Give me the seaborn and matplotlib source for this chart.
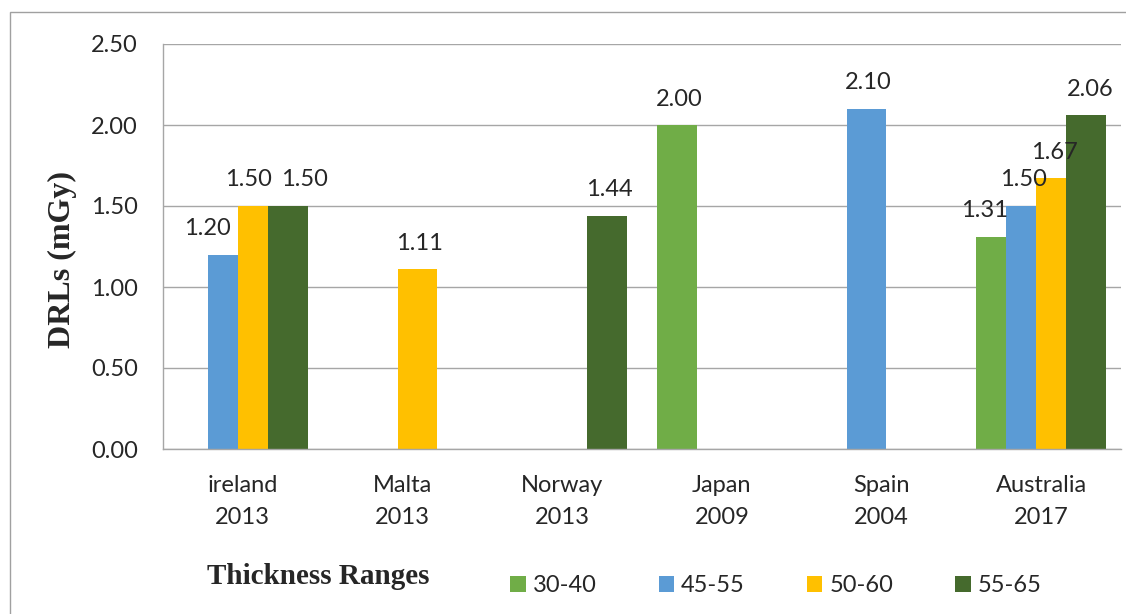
"""DRLs by country / thickness range, grouped bar chart."""

import matplotlib
matplotlib.use("Agg")
import matplotlib.pyplot as plt
from matplotlib.patches import Patch, Rectangle
import numpy as np
import pandas as pd
import seaborn as sns

# ---- data ----
countries = ["ireland\n2013", "Malta\n2013", "Norway\n2013", "Japan\n2009", "Spain\n2004", "Australia\n2017"]
ranges = ["30-40", "45-55", "50-60", "55-65"]
drl_30_40 = [np.nan, np.nan, np.nan, 2.00, np.nan, 1.31]
drl_45_55 = [1.20, np.nan, np.nan, np.nan, 2.10, 1.50]
drl_50_60 = [1.50, 1.11, np.nan, np.nan, np.nan, 1.67]
drl_55_65 = [1.50, np.nan, 1.44, np.nan, np.nan, 2.06]
colors = ["#70AD47", "#5B9BD5", "#FFC000", "#456A2D"]

rows = []
for rng, vals in zip(ranges, [drl_30_40, drl_45_55, drl_50_60, drl_55_65]):
    for c, v in zip(countries, vals):
        if not np.isnan(v):
            rows.append({"Country": c, "Range": rng, "DRL": v})
df = pd.DataFrame(rows)

# label nudges (pixels), to keep labels from colliding as in the original
label_dx = {(0, 1): -20, (0, 2): -9, (0, 3): 17,
            (5, 0): -12, (5, 1): -3, (5, 2): -2, (5, 3): 4}

FS = 17

sns.set_style("white")
plt.rcParams["font.family"] = ["Lato", "DejaVu Sans"]

fig = plt.figure(figsize=(11.26, 6.14), dpi=100)
ax = fig.add_axes([163 / 1126, 1 - 449 / 614, (1121 - 163) / 1126, (449 - 44) / 614])

sns.barplot(data=df, x="Country", y="DRL", hue="Range", order=countries, hue_order=ranges,
            palette=colors, width=0.75, dodge=True, errorbar=None, saturation=1,
            linewidth=0, legend=False, ax=ax)

# overlapping bars (25% overlap): widen each bar around its centre
step = 0.75 / 4
bar_w = 0.25
for cont in ax.containers:
    for bar in cont:
        h = bar.get_height()
        if h is None or np.isnan(h):
            continue
        cx = bar.get_x() + bar.get_width() / 2
        bar.set_width(bar_w)
        bar.set_x(cx - bar_w / 2)
        cat = int(round(cx))
        s = int(round((cx - cat + 0.375 - step / 2) / step))
        dx = label_dx.get((cat, s), 2) * 0.72
        ax.annotate(f"{h:.2f}", (cx, h), xytext=(dx, 26 * 0.72), textcoords="offset points",
                    ha="center", va="center", fontsize=FS)

ax.set_xlim(-0.5, 5.5)
ax.set_ylim(0, 2.5)
ax.set_yticks(np.arange(0, 2.51, 0.5))
ax.set_yticklabels([f"{t:.2f}" for t in np.arange(0, 2.51, 0.5)])
ax.yaxis.grid(True, color="#A6A6A6", linewidth=1)
ax.set_axisbelow(True)
for side in ["top", "right"]:
    ax.spines[side].set_visible(False)
for side in ["left", "bottom"]:
    ax.spines[side].set_color("#A6A6A6")
    ax.spines[side].set_linewidth(1)
ax.tick_params(axis="both", length=0, labelsize=FS)
ax.tick_params(axis="y", pad=18)
ax.tick_params(axis="x", pad=19)
for lab in ax.get_xticklabels():
    lab.set_linespacing(1.6)

ax.set_xlabel("")
ax.set_ylabel("DRLs (mGy)", family="Liberation Serif", fontweight="bold", fontsize=23)
ax.yaxis.set_label_coords(-0.09, 0.467)

fig.text(318 / 1126, 1 - 577 / 614, "Thickness Ranges", family="Liberation Serif",
         fontweight="bold", fontsize=21, ha="center", va="center")

handles = [Patch(facecolor=c, edgecolor="none", label=r) for c, r in zip(colors, ranges)]
fig.legend(handles=handles, loc="center", bbox_to_anchor=(776 / 1126, 1 - 586 / 614), ncol=4,
           frameon=False, fontsize=FS, handlelength=0.65, handleheight=0.65,
           handletextpad=0.3, columnspacing=2.63)

# outer chart border
fig.add_artist(Rectangle((10 / 1126, -0.1), 1.2, 1 - 12 / 614 + 0.1, transform=fig.transFigure,
                         fill=False, edgecolor="#A0A0A0", linewidth=1, clip_on=False))

fig.savefig("out.png", dpi=100)
